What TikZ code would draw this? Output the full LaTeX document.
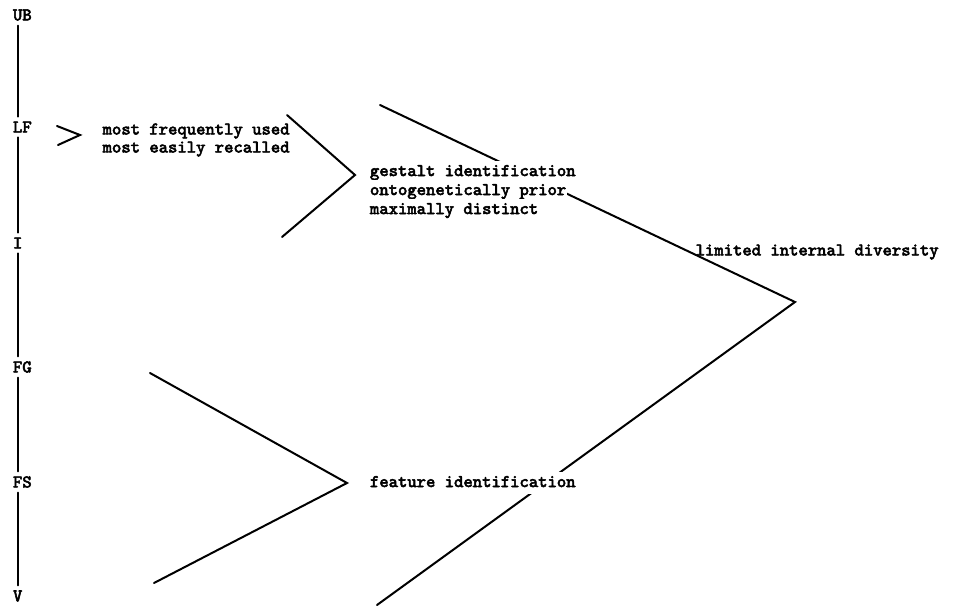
\documentclass[tikz,border=0pt]{standalone}
\usepackage{fontspec}
\newfontfamily\typefont{Latin Modern Mono}[FakeBold=3]
\begin{document}
\begin{tikzpicture}[x=0.5pt, y=-0.5pt, line width=1pt, line cap=round,
    every node/.style={font=\typefont\fontsize{8.9}{9}\selectfont},
    level/.style={anchor=west, inner sep=2pt},
    phrase/.style={anchor=west, inner sep=0.5pt, text height=7pt,
        text depth=3pt, fill=white}]
    \useasboundingbox (0,0) rectangle (955,606);

    % levels
    \node[level] (UB) at (8,15) {UB};
    \node[level] (LF) at (8,127) {LF};
    \node[level] (I) at (8,243) {I};
    \node[level] (FG) at (8,367) {FG};
    \node[level] (FS) at (8,482) {FS};
    \node[level] (V) at (8,596) {V};
    \foreach \a/\b in {UB/LF, LF/I, I/FG, FG/FS, FS/V}
        \draw ([xshift=5pt]\a.south west) -- ([xshift=5pt]\b.north west);

    % brackets
    \draw (57,126) -- (80,135) -- (58,145);
    \draw (287,115) -- (355,175) -- (282,237);
    \draw (150,373) -- (347,483) -- (154,583);
    \coordinate (tip) at (795,302);
    \draw (380,105) -- (tip) -- (377,605);

    \node[anchor=west, align=left] (frequent) at (95,140)
        {most frequently used\\most easily recalled};
    \node[phrase] (gestalt) at (368,172) {gestalt identification};
    \node[phrase] (prior) at (368,191) {ontogenetically prior};
    \node[phrase] (distinct) at (368,210) {maximally distinct};
    \node[anchor=west] (diversity) at (688,252) {limited internal diversity};
    \node[phrase] (feature) at (368,483) {feature identification};
\end{tikzpicture}
\end{document}
